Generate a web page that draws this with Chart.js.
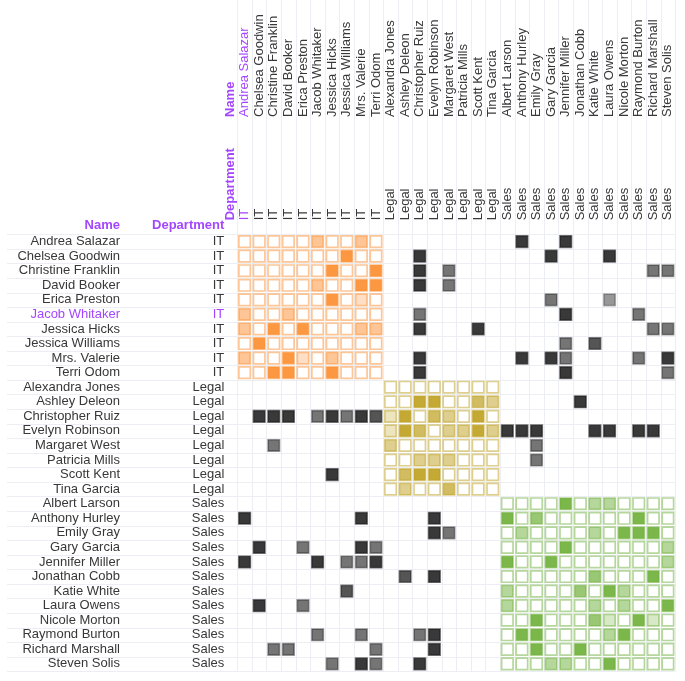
<!DOCTYPE html>
<html>
<head>
<meta charset="utf-8">
<script src="https://cdn.jsdelivr.net/npm/chart.js@4.4.1/dist/chart.umd.min.js"></script>
<style>
  html, body { margin: 0; padding: 0; background: #fff; }
  #wrap { width: 685px; height: 681px; }
</style>
</head>
<body>
<div id="wrap"><canvas id="myChart"></canvas></div>
<script>
// people (rows and columns share the same order)
const names = ['Andrea Salazar', 'Chelsea Goodwin', 'Christine Franklin', 'David Booker', 'Erica Preston',
  'Jacob Whitaker', 'Jessica Hicks', 'Jessica Williams', 'Mrs. Valerie', 'Terri Odom',
  'Alexandra Jones', 'Ashley Deleon', 'Christopher Ruiz', 'Evelyn Robinson', 'Margaret West',
  'Patricia Mills', 'Scott Kent', 'Tina Garcia',
  'Albert Larson', 'Anthony Hurley', 'Emily Gray', 'Gary Garcia', 'Jennifer Miller', 'Jonathan Cobb',
  'Katie White', 'Laura Owens', 'Nicole Morton', 'Raymond Burton', 'Richard Marshall', 'Steven Solis'];
const depts = ['IT', 'IT', 'IT', 'IT', 'IT', 'IT', 'IT', 'IT', 'IT', 'IT',
  'Legal', 'Legal', 'Legal', 'Legal', 'Legal', 'Legal', 'Legal', 'Legal',
  'Sales', 'Sales', 'Sales', 'Sales', 'Sales', 'Sales', 'Sales', 'Sales', 'Sales', 'Sales', 'Sales', 'Sales'];

// [row, column, strength 1..4]
const links = [
  [0,5,2],[0,8,2],[0,19,4],[0,22,4],
  [1,7,4],[1,12,4],[1,21,4],[1,25,4],
  [2,6,4],[2,9,4],[2,12,4],[2,14,2],[2,28,2],[2,29,2],
  [3,5,2],[3,8,4],[3,9,4],[3,12,4],[3,14,2],
  [4,6,4],[4,8,1],[4,21,2],[4,25,1],
  [5,0,2],[5,3,2],[5,12,2],[5,22,4],[5,27,2],
  [6,0,2],[6,2,4],[6,4,4],[6,8,2],[6,9,2],[6,12,4],[6,16,4],[6,28,2],[6,29,2],
  [7,1,4],[7,22,2],[7,24,3],
  [8,0,2],[8,3,4],[8,4,1],[8,6,2],[8,12,4],[8,19,4],[8,21,4],[8,22,2],[8,27,2],[8,29,4],
  [9,2,4],[9,3,4],[9,6,4],[9,12,4],[9,22,4],[9,29,2],
  [11,12,4],[11,13,4],[11,16,3],[11,17,2],[11,23,4],
  [12,1,4],[12,2,4],[12,3,4],[12,5,2],[12,6,4],[12,7,2],[12,8,4],[12,9,3],[12,10,1],[12,11,4],[12,13,3],[12,14,2],[12,16,4],
  [13,10,1],[13,11,4],[13,12,3],[13,14,2],[13,15,2],[13,16,4],[13,17,2],[13,18,4],[13,19,4],[13,20,4],[13,24,4],[13,25,4],[13,27,4],[13,28,4],
  [14,2,2],[14,10,2],[14,20,2],
  [15,12,2],[15,13,2],[15,14,2],[15,20,2],
  [16,6,4],[16,11,3],[16,12,4],[16,13,4],
  [17,11,2],[17,14,3],
  [18,22,4],[18,24,2],[18,25,2],
  [19,0,4],[19,8,4],[19,13,4],[19,18,4],[19,20,3],[19,27,4],
  [20,13,4],[20,14,2],[20,19,2],[20,24,2],[20,26,4],[20,27,4],[20,28,4],
  [21,1,4],[21,4,2],[21,8,4],[21,9,2],[21,22,4],[21,29,2],
  [22,0,4],[22,5,4],[22,7,2],[22,8,2],[22,9,4],[22,18,4],[22,21,4],[22,29,2],
  [23,11,3],[23,13,4],[23,24,3],[23,28,4],
  [24,7,3],[24,18,2],[24,23,3],[24,25,4],[24,26,2],
  [25,1,4],[25,4,2],[25,18,2],[25,24,2],[25,26,2],[25,29,4],
  [26,20,4],[26,24,3],[26,25,1],[26,27,4],[26,28,1],
  [27,5,2],[27,8,2],[27,12,2],[27,13,4],[27,19,4],[27,20,4],[27,25,2],[27,26,4],
  [28,2,2],[28,3,2],[28,9,2],[28,13,4],[28,20,4],[28,23,4],
  [29,6,2],[29,8,4],[29,9,2],[29,12,4],[29,21,2],[29,22,2],[29,25,4]
];

const hiRow = 5;   // Jacob Whitaker
const hiCol = 0;   // Andrea Salazar
const purple = '#a546ff';
const textCol = '#383838';
const deptRgb = { IT: '253,141,45', Legal: '190,160,30', Sales: '110,175,55' };
const fillAlpha = [0, 0.28, 0.5, 0.7, 0.9];
const crossAlpha = [0, 0.45, 0.6, 0.74, 0.86];

const lookup = {};
links.forEach(([r, c, v]) => { lookup[r + ',' + c] = v; });

// one dataset per department block, plus one for links between departments
const datasets = [];
Object.keys(deptRgb).forEach(d => {
  const pts = [];
  names.forEach((rn, r) => {
    if (depts[r] !== d) return;
    names.forEach((cn, c) => {
      if (depts[c] !== d) return;
      pts.push({ x: cn, y: rn, v: lookup[r + ',' + c] || 0 });
    });
  });
  datasets.push({
    data: pts,
    backgroundColor: ctx => {
      const v = ctx.raw ? ctx.raw.v : 0;
      return v ? `rgba(${deptRgb[d]},${fillAlpha[v]})` : '#ffffff';
    },
    borderColor: `rgba(${deptRgb[d]},0.5)`
  });
});
const crossPts = links.filter(([r, c]) => depts[r] !== depts[c])
  .map(([r, c, v]) => ({ x: names[c], y: names[r], v }));
datasets.push({
  data: crossPts,
  backgroundColor: ctx => `rgba(25,25,25,${ctx.raw ? crossAlpha[ctx.raw.v] : 0})`,
  borderColor: ctx => `rgba(25,25,25,${ctx.raw ? crossAlpha[ctx.raw.v] * 0.7 : 0})`
});
datasets.forEach(ds => {
  ds.pointStyle = 'rect';
  ds.pointRadius = 8.1;
  ds.pointHoverRadius = 8.1;
  ds.pointBorderWidth = 1.7;
  ds.pointHoverBorderWidth = 1.7;
  ds.clip = false;
});

const gridLines = {
  id: 'gridLines',
  beforeDatasetsDraw(chart) {
    const { ctx, chartArea, scales: { x, y } } = chart;
    const sx = x.getPixelForValue(1) - x.getPixelForValue(0);
    const sy = y.getPixelForValue(1) - y.getPixelForValue(0);
    ctx.save();
    ctx.strokeStyle = '#eceef3';
    ctx.lineWidth = 1;
    ctx.beginPath();
    for (let i = 0; i <= names.length; i++) {
      const px = Math.round(x.getPixelForValue(i) - sx / 2) + 0.5;
      ctx.moveTo(px, 0);
      ctx.lineTo(px, chartArea.bottom);
      const py = Math.round(y.getPixelForValue(i) - sy / 2) + 0.5;
      ctx.moveTo(7, py);
      ctx.lineTo(chartArea.right, py);
    }
    ctx.stroke();
    ctx.restore();
  }
};

const headers = {
  id: 'headers',
  afterDraw(chart) {
    const { ctx, chartArea, scales } = chart;
    ctx.save();
    ctx.fillStyle = purple;
    ctx.font = 'bold 13px Arial, "Liberation Sans", sans-serif';
    ctx.textBaseline = 'middle';
    ctx.textAlign = 'right';
    const hy = chartArea.top - 9;
    ctx.fillText('Name', scales.y.right - scales.y.options.ticks.padding, hy);
    ctx.fillText('Department', scales.yd.right - scales.yd.options.ticks.padding, hy);
    const hx = scales.x.getPixelForValue(-1);
    [['Name', scales.x], ['Department', scales.xd]].forEach(([t, s]) => {
      ctx.save();
      ctx.translate(hx, s.bottom - s.options.ticks.padding);
      ctx.rotate(-Math.PI / 2);
      ctx.textAlign = 'left';
      ctx.fillText(t, 0, 0);
      ctx.restore();
    });
    ctx.restore();
  }
};

Chart.defaults.font.family = 'Arial, "Liberation Sans", sans-serif';
Chart.defaults.font.size = 13;
Chart.defaults.color = textCol;

// fixed axis sizes; drop the extra label padding Chart.js adds at the ends
function sized(prop, val) {
  return s => {
    s[prop] = val;
    s.paddingTop = s.paddingBottom = s.paddingLeft = s.paddingRight = 0;
  };
}

function axis(opts) {
  return Object.assign({
    type: 'category',
    offset: true,
    grid: { display: false, drawTicks: false },
    border: { display: false }
  }, opts);
}

const ctx = document.getElementById('myChart').getContext('2d');
new Chart(ctx, {
  type: 'scatter',
  data: { datasets },
  plugins: [gridLines, headers],
  options: {
    responsive: true,
    maintainAspectRatio: false,
    animation: false,
    layout: { padding: { top: 0, left: 0, right: 7.7, bottom: 6.7 } },
    plugins: { legend: { display: false }, tooltip: { enabled: false } },
    scales: {
      x: axis({
        labels: names, position: 'top', weight: 1,
        ticks: { autoSkip: false, minRotation: 90, maxRotation: 90, padding: 0, labelOffset: 15.6,
          color: c => c.index === hiCol ? purple : textCol },
        afterFit: sized('height', 117)
      }),
      xd: axis({
        labels: depts, position: 'top', weight: 0,
        ticks: { autoSkip: false, minRotation: 90, maxRotation: 90, padding: 14, labelOffset: 15.6,
          color: c => c.index === hiCol ? purple : textCol },
        afterFit: sized('height', 117.3)
      }),
      y: axis({
        labels: names, position: 'left', weight: 1,
        ticks: { autoSkip: false, padding: 2,
          color: c => c.index === hiRow ? purple : textCol },
        afterFit: sized('width', 122)
      }),
      yd: axis({
        labels: depts, position: 'left', weight: 0,
        ticks: { autoSkip: false, padding: 13,
          color: c => c.index === hiRow ? purple : textCol },
        afterFit: sized('width', 115.3)
      })
    }
  }
});
</script>
</body>
</html>
